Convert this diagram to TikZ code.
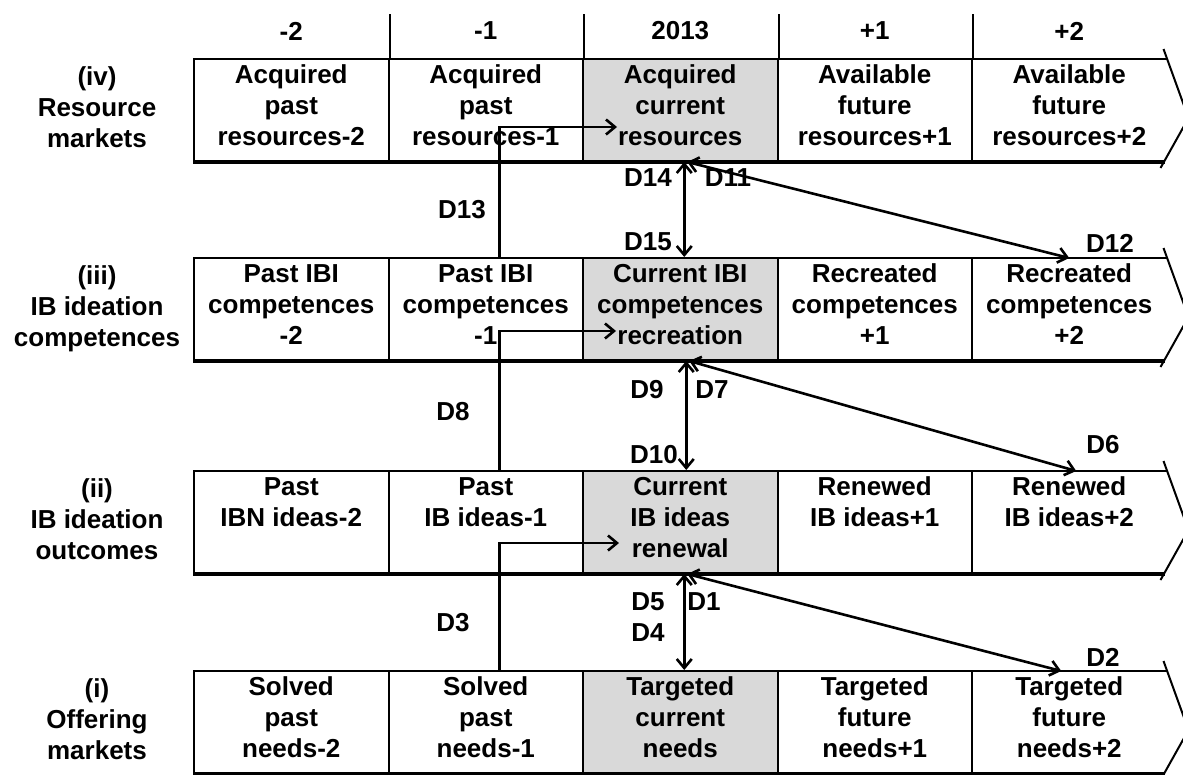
\documentclass[tikz,border=0pt]{standalone}
\usepackage{fontspec}
\setmainfont{Liberation Sans}
\usetikzlibrary{arrows.meta}

\def\W{194.5}
\def\X{194}
\def\Ra{110}
\def\Rb{309}
\def\Rc{522}
\def\Rd{722}

\begin{document}
\begin{tikzpicture}[x=1pt, y=-1pt,
    >={Straight Barb[length=9pt,width=15pt]},
    every node/.style={font=\fontsize{26}{31}\selectfont\bfseries, align=center, inner sep=0pt},
    txt/.style={execute at begin node=\strut},
    cell/.style={txt, draw, line width=2pt, minimum width=\W pt, minimum height=102pt},
    cur/.style={cell, fill=gray!30},
    last/.style={cell, draw=none, outer sep=0pt},
    bar/.style={line width=2pt},
    base/.style={line width=3.6pt},
    link/.style={line width=2.6pt}]
    \useasboundingbox (0,0) rectangle (1183,774);

    % time axis
    \node (h1) at (\X+0.5*\W, 31) {-2};
    \node (h2) at (\X+1.5*\W, 31) {-1};
    \node (h3) at (\X+2.5*\W, 31) {2013};
    \node (h4) at (\X+3.5*\W, 31) {+1};
    \node (h5) at (\X+4.5*\W, 31) {+2};

    % row labels
    \node[txt] (L4) at (97, \Ra+2) {(iv)\\Resource\\markets};
    \node[txt] (L3) at (97, \Rb+2) {(iii)\\IB ideation\\competences};
    \node[txt] (L2) at (97, \Rc+2) {(ii)\\IB ideation\\outcomes};
    \node[txt] (L1) at (97, \Rd+2) {(i)\\Offering\\markets};

    % (iv)
    \node[cell] (iv1) at (\X+0.5*\W, \Ra) {Acquired\\past\\resources-2};
    \node[cell] (iv2) at (\X+1.5*\W, \Ra) {Acquired\\past\\resources-1};
    \node[cur]  (iv3) at (\X+2.5*\W, \Ra) {Acquired\\current\\resources};
    \node[cell] (iv4) at (\X+3.5*\W, \Ra) {Available\\future\\resources+1};
    \node[last] (iv5) at (\X+4.5*\W, \Ra) {Available\\future\\resources+2};
    % (iii)
    \node[cell] (iii1) at (\X+0.5*\W, \Rb) {Past IBI\\competences\\-2};
    \node[cell] (iii2) at (\X+1.5*\W, \Rb) {Past IBI\\competences\\-1};
    \node[cur]  (iii3) at (\X+2.5*\W, \Rb) {Current IBI\\competences\\recreation};
    \node[cell] (iii4) at (\X+3.5*\W, \Rb) {Recreated\\competences\\+1};
    \node[last] (iii5) at (\X+4.5*\W, \Rb) {Recreated\\competences\\+2};
    % (ii)
    \node[cell] (ii1) at (\X+0.5*\W, \Rc) {Past\\IBN ideas-2\\\mbox{}};
    \node[cell] (ii2) at (\X+1.5*\W, \Rc) {Past\\IB ideas-1\\\mbox{}};
    \node[cur]  (ii3) at (\X+2.5*\W, \Rc) {Current\\IB ideas\\renewal};
    \node[cell] (ii4) at (\X+3.5*\W, \Rc) {Renewed\\IB ideas+1\\\mbox{}};
    \node[last] (ii5) at (\X+4.5*\W, \Rc) {Renewed\\IB ideas+2\\\mbox{}};
    % (i)
    \node[cell] (i1) at (\X+0.5*\W, \Rd) {Solved\\past\\needs-2};
    \node[cell] (i2) at (\X+1.5*\W, \Rd) {Solved\\past\\needs-1};
    \node[cur]  (i3) at (\X+2.5*\W, \Rd) {Targeted\\current\\needs};
    \node[cell] (i4) at (\X+3.5*\W, \Rd) {Targeted\\future\\needs+1};
    \node[last] (i5) at (\X+4.5*\W, \Rd) {Targeted\\future\\needs+2};

    % row frames and arrow heads
    \foreach \r in {iv,iii,ii,i} {
      \draw[bar] (\r5.north west) -- (\r5.north east);
      \draw[base] (\r1.south west) -- ([xshift=-2pt]\r1.south west -| \r5.south east);
      \draw[bar] ([xshift=-3pt,yshift=10pt]\r5.north east) -- ([xshift=22pt,yshift=-8pt]\r5.east)
        -- ([xshift=-6pt,yshift=-7pt]\r5.south east);
    }
    \foreach \c in {1,...,4}
      \draw[bar] (iv\c.north east) -- ++(0,-44);

    % past to current
    \draw[link,->] ([xshift=13.5pt]iii2.north) |- ([xshift=35pt,yshift=-17pt]iv3.west);
    \draw[link,->] ([xshift=13.5pt]ii2.north) |- ([xshift=34pt,yshift=-22pt]iii3.west);
    \draw[link,->] ([xshift=13.5pt]i2.north) |- ([xshift=37pt,yshift=-21pt]ii3.west);

    % current to current, current to future
    \draw[link,<->] ([xshift=4pt]iv3.south) -- ([xshift=4pt]iii3.north);
    \draw[link,<->] ([xshift=7pt]iv3.south) -- (iii5.north);
    \draw[link,<->] ([xshift=6pt]iii3.south) -- ([xshift=6pt]ii3.north);
    \draw[link,<->] ([xshift=9pt]iii3.south) -- ([xshift=7pt]ii5.north);
    \draw[link,<->] ([xshift=4pt]ii3.south) -- ([xshift=4pt]i3.north);
    \draw[link,<->] ([xshift=7pt]ii3.south) -- ([xshift=-8pt]i5.north);

    % D labels
    \node (d13) at (462, 210) {D13};
    \node (d14) at (648, 178) {D14};
    \node (d11) at (728, 178) {D11};
    \node (d15) at (648, 242) {D15};
    \node (d12) at (1110, 243) {D12};
    \node (d8)  at (453, 412) {D8};
    \node (d9)  at (647, 390) {D9};
    \node (d7)  at (712, 390) {D7};
    \node (d10) at (654, 455) {D10};
    \node (d6)  at (1103, 445) {D6};
    \node (d3)  at (453, 623) {D3};
    \node (d5)  at (648, 602) {D5};
    \node (d1)  at (704, 602) {D1};
    \node (d4)  at (648, 633) {D4};
    \node (d2)  at (1103, 657) {D2};
  \end{tikzpicture}
\end{document}
